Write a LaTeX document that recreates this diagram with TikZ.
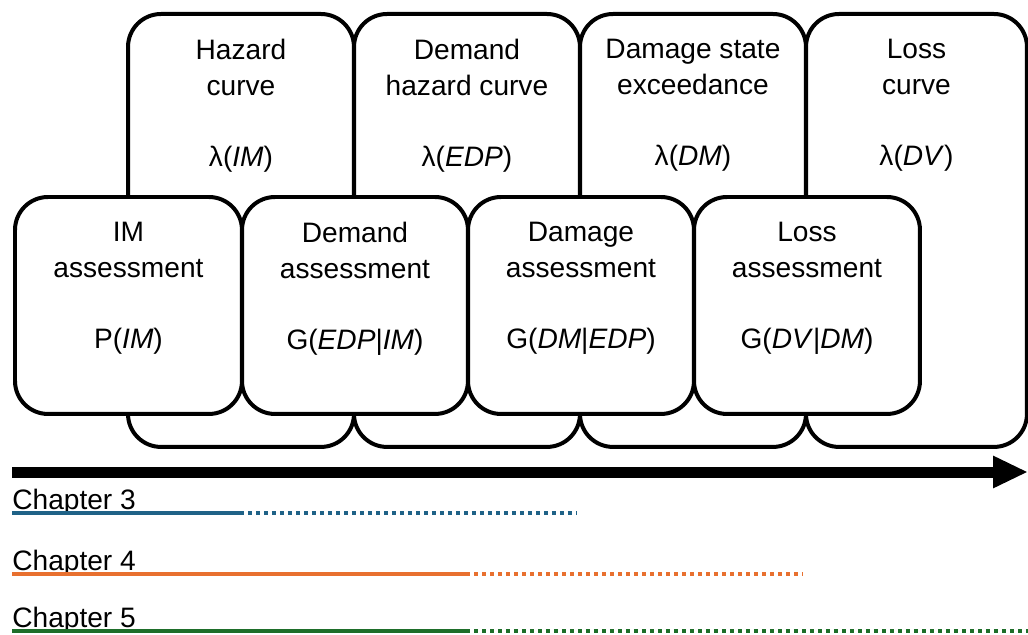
\documentclass[tikz,border=0pt]{standalone}
\usepackage{fontspec}
\setmainfont{Liberation Sans}
\usetikzlibrary{arrows.meta}

\definecolor{chapblue}{HTML}{1F6287}
\definecolor{chaporange}{HTML}{E8702F}
\definecolor{chapgreen}{HTML}{1E6E2A}

\tikzset{
  stage/.style={draw, line width=0.08cm, rounded corners=0.66cm, fill=white,
    anchor=north west, inner sep=0pt, minimum width=4.52cm},
  upperstage/.style={stage, minimum height=8.66cm},
  lowerstage/.style={stage, minimum height=4.34cm},
  stagetext/.style={anchor=north, align=center, inner sep=0pt, yshift=-0.54cm,
    font=\fontsize{16}{20.5}\selectfont},
  chaptext/.style={anchor=base west, inner sep=0pt, font=\fontsize{16}{19}\selectfont},
  chapline/.style={line width=0.08cm},
  chapdots/.style={line width=0.08cm, dash pattern=on 0.08cm off 0.08cm}
}

\begin{document}
\begin{tikzpicture}[x=0.02cm,y=-0.02cm]
    \useasboundingbox (0,0) rectangle (1028,635);

    % curves (back row)
    \node[upperstage] (hazard) at (126,12) {};
    \node[upperstage] (demandhaz) at (352,12) {};
    \node[upperstage] (damagehaz) at (578,12) {};
    \node[upperstage, minimum width=4.42cm] (losshaz) at (804,12) {};
    \node[stagetext] (hazardtxt) at (hazard.north) {Hazard\\curve\\[0.7cm]λ(\textit{IM})};
    \node[stagetext] (demandhaztxt) at (demandhaz.north) {Demand\\hazard curve\\[0.7cm]λ(\textit{EDP})};
    \node[stagetext] (damagehaztxt) at (damagehaz.north) {Damage state\\exceedance\\[0.7cm]λ(\textit{DM})};
    \node[stagetext] (losshaztxt) at (losshaz.north) {Loss\\curve\\[0.7cm]λ(\textit{DV})};

    % assessments (front row)
    \node[lowerstage, minimum width=4.54cm] (imassess) at (13,195) {};
    \node[lowerstage] (demassess) at (240,195) {};
    \node[lowerstage] (damassess) at (466,195) {};
    \node[lowerstage] (lossassess) at (692,195) {};
    \node[stagetext] (imtxt) at (imassess.north) {IM\\assessment\\[0.7cm]P(\textit{IM})};
    \node[stagetext] (demtxt) at (demassess.north) {Demand\\assessment\\[0.7cm]G(\textit{EDP}|\textit{IM})};
    \node[stagetext] (damtxt) at (damassess.north) {Damage\\assessment\\[0.7cm]G(\textit{DM}|\textit{EDP})};
    \node[stagetext] (losstxt) at (lossassess.north) {Loss\\assessment\\[0.7cm]G(\textit{DV}|\textit{DM})};

    % process arrow
    \coordinate (arrowstart) at (12,472);
    \coordinate (arrowend) at (1028,472);
    \draw[line width=0.22cm, -{Triangle[length=0.7cm,width=0.6cm]}] (arrowstart) -- (arrowend);

    % chapters
    \node[chaptext] (chapthree) at (12,509) {Chapter 3};
    \node[chaptext] (chapfour) at (12,570) {Chapter 4};
    \node[chaptext] (chapfive) at (12,627) {Chapter 5};
    \draw[chapline, chapblue] (12,513) -- (240,513);
    \draw[chapdots, chapblue] (240,513) -- (576,513);
    \draw[chapline, chaporange] (12,574) -- (466,574);
    \draw[chapdots, chaporange] (466,574) -- (803,574);
    \draw[chapline, chapgreen] (12,631) -- (466,631);
    \draw[chapdots, chapgreen] (466,631) -- (1028,631);
\end{tikzpicture}
\end{document}
